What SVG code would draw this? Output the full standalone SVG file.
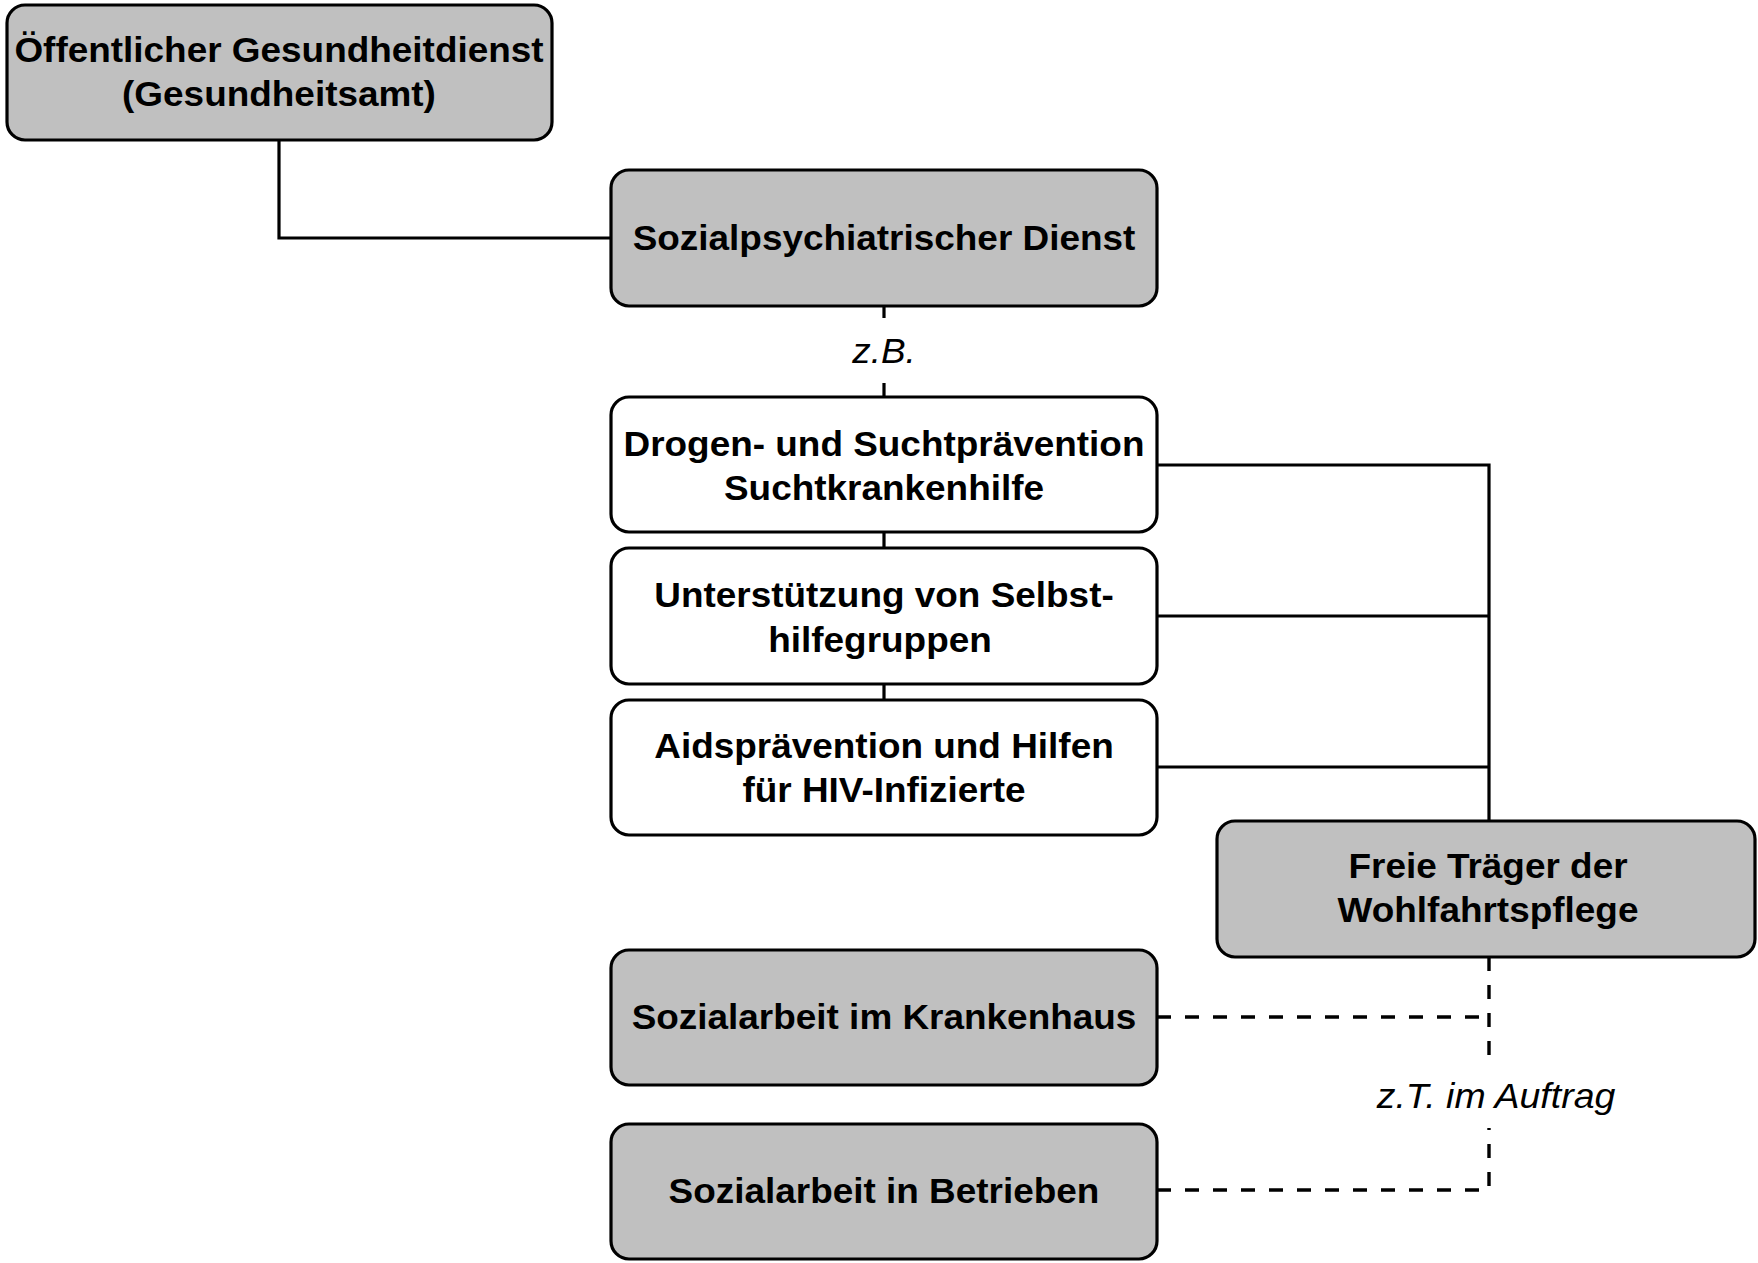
<svg xmlns="http://www.w3.org/2000/svg" width="1758" height="1263" viewBox="0 0 1758 1263">
<style>
.box{stroke:#000;stroke-width:3.2}
.gray{fill:#c0c0c0}
.white{fill:#fff}
.t{font-family:"Liberation Sans",Arial,sans-serif;font-size:35px;font-weight:bold;text-anchor:middle;fill:#000}
.it{font-family:"Liberation Sans",Arial,sans-serif;font-size:35px;font-style:italic;text-anchor:middle;fill:#000}
.ln{fill:none;stroke:#000;stroke-width:3.2}
.dash{fill:none;stroke:#000;stroke-width:3.4;stroke-dasharray:14 14}
</style>
<rect width="1758" height="1263" fill="#fff"/>
<g id="connectors">
<path class="ln" d="M279,140 V238 H611"/>
<path class="ln" d="M884,306 V318 M884,383 V397"/>
<path class="ln" d="M884,532 V548 M884,684 V700"/>
<path class="ln" d="M1157,465 H1489 V821 M1157,616 H1489 M1157,767 H1489"/>
<path class="dash" d="M1489,957 V1058"/>
<path class="dash" d="M1157,1017 H1489"/>
<path class="dash" d="M1157,1190 H1489 V1128"/>
<text class="it" transform="translate(1496,1108) scale(1.07,1)">z.T. im Auftrag</text>
<text class="it" transform="translate(884,363) scale(1.055,1)">z.B.</text>
</g>
<g id="oeffentlicher">
<rect class="box gray" x="7" y="5" width="545" height="135" rx="18"/>
<text class="t" transform="translate(279,62) scale(1.055,1)">Öffentlicher Gesundheitdienst</text>
<text class="t" transform="translate(279,106) scale(1.055,1)">(Gesundheitsamt)</text>
</g>
<g id="sozialpsychiatrisch">
<rect class="box gray" x="611" y="170" width="546" height="136" rx="18"/>
<text class="t" transform="translate(884,250) scale(1.055,1)">Sozialpsychiatrischer Dienst</text>
</g>
<g id="drogen">
<rect class="box white" x="611" y="397" width="546" height="135" rx="18"/>
<text class="t" transform="translate(884,456) scale(1.055,1)">Drogen- und Suchtprävention</text>
<text class="t" transform="translate(884,500) scale(1.055,1)">Suchtkrankenhilfe</text>
</g>
<g id="selbsthilfe">
<rect class="box white" x="611" y="548" width="546" height="136" rx="18"/>
<text class="t" transform="translate(884,607) scale(1.055,1)">Unterstützung von Selbst-</text>
<text class="t" transform="translate(880,652) scale(1.055,1)">hilfegruppen</text>
</g>
<g id="aids">
<rect class="box white" x="611" y="700" width="546" height="135" rx="18"/>
<text class="t" transform="translate(884,758) scale(1.055,1)">Aidsprävention und Hilfen</text>
<text class="t" transform="translate(884,802) scale(1.055,1)">für HIV-Infizierte</text>
</g>
<g id="freie">
<rect class="box gray" x="1217" y="821" width="538" height="136" rx="18"/>
<text class="t" transform="translate(1488,878) scale(1.055,1)">Freie Träger der</text>
<text class="t" transform="translate(1488,922) scale(1.055,1)">Wohlfahrtspflege</text>
</g>
<g id="krankenhaus">
<rect class="box gray" x="611" y="950" width="546" height="135" rx="18"/>
<text class="t" transform="translate(884,1029) scale(1.055,1)">Sozialarbeit im Krankenhaus</text>
</g>
<g id="betriebe">
<rect class="box gray" x="611" y="1124" width="546" height="135" rx="18"/>
<text class="t" transform="translate(884,1203) scale(1.055,1)">Sozialarbeit in Betrieben</text>
</g>
</svg>
